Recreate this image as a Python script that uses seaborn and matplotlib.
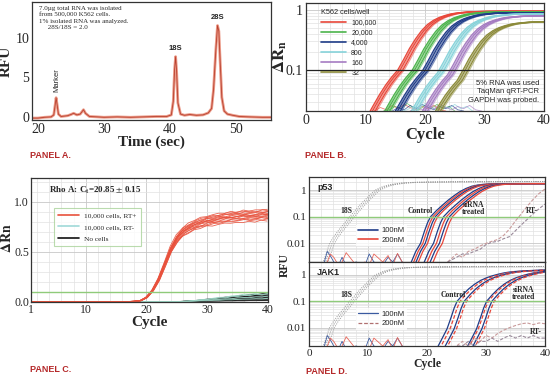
import numpy as np
import matplotlib
matplotlib.use("Agg")
import matplotlib.pyplot as plt
import seaborn as sns
from matplotlib.lines import Line2D
from matplotlib.ticker import MultipleLocator, LogLocator, NullFormatter, FixedLocator, FixedFormatter

sns.set_style("white")
plt.rcParams["font.family"] = ["Liberation Serif", "DejaVu Serif"]
plt.rcParams["mathtext.fontset"] = "stix"

W, H = 560, 386
SANS = ["Liberation Sans", "DejaVu Sans"]
PANEL_RED = "#b5292a"

# ---------------- Panel A: RNA electropherogram ----------------
time_a = [19.0, 20.0, 21.0, 22.0, 22.4, 22.6, 22.75, 22.9, 23.1, 23.5,
          24.5, 25.0, 25.4, 25.9, 26.4, 26.9, 27.2, 27.8, 29.0, 30.0,
          32.0, 34.0, 36.0, 38.0, 39.5, 40.2, 40.5, 40.7, 40.85, 41.0,
          41.2, 41.6, 42.2, 43.0, 44.0, 45.0, 45.8, 46.3, 46.6, 46.95,
          47.2, 47.4, 47.6, 47.85, 48.2, 48.7, 49.5, 50.5, 52.0, 54.0, 56.0]
rfu_a = [-0.1, -0.1, 0.0, 0.05, 0.3, 1.5, 2.45, 1.6, 0.4, 0.1,
         0.2, 0.35, 0.5, 0.3, 0.4, 0.95, 0.5, 0.1, 0.05, 0.0,
         0.05, 0.0, 0.05, 0.1, 0.1, 0.3, 2.0, 6.0, 7.6, 5.8,
         1.8, 0.4, 0.25, 0.35, 0.25, 0.3, 0.55, 1.1, 3.5, 8.5,
         11.5, 10.8, 7.0, 2.5, 0.8, 0.4, 0.25, 0.1, 0.05, 0.0, 0.0]

# ---------------- Panel B: GAPDH dilution series ----------------
b_labels = ["100,000", "20,000", "4,000", "800", "160", "32"]
b_colors = ["#e8473a", "#4cb44c", "#1f3c88", "#86d3da", "#a57cc2", "#8c8b3a"]
b_ct = [15.9, 18.3, 20.0, 22.6, 24.3, 25.9]
b_plateau = [0.95, 0.93, 0.90, 0.86, 0.80, 0.64]
b_spread = [-0.5, -0.3, -0.1, 0.15, 0.35, 0.6]
b_rel = [-7, -6, -5, -4, -3, -2, -1, 0, 1, 2, 3, 4, 5, 6, 7, 8, 9, 10, 11, 12, 14, 18, 30]
b_shape = [0.008, 0.012, 0.018, 0.027, 0.04, 0.057, 0.077, 0.1, 0.15, 0.23, 0.33, 0.45,
           0.57, 0.67, 0.75, 0.81, 0.86, 0.89, 0.91, 0.93, 0.94, 0.95, 0.95]
# tangled baseline traces near the bottom of panel B
b_noise_cyc = [11.5, 12.5, 13.5, 14.5, 15.5, 16.5, 17.5, 18.5, 19.5, 20.5, 21.5, 22.5, 23.5]
b_noise_1 = [0.021, 0.024, 0.022, 0.026, 0.023, 0.027, 0.024, 0.022, 0.025, 0.023, 0.026, 0.022, 0.021]
b_noise_2 = [0.021, 0.022, 0.025, 0.023, 0.028, 0.024, 0.022, 0.026, 0.023, 0.027, 0.023, 0.025, 0.021]
b_noise_colors = ["#e8473a", "#4cb44c", "#1f3c88", "#86d3da", "#a57cc2"]

# ---------------- Panel C: Rho A ----------------
c_cycles = list(range(1, 41))
c_rtpos = [0.0, 0.0, 0.0, 0.0, 0.0, 0.0, 0.0, 0.0, 0.0, 0.0, 0.0, 0.0, 0.0, 0.0, 0.0, 0.0, 0.0,
           0.002, 0.008, 0.04, 0.11, 0.22, 0.37, 0.52, 0.63, 0.70, 0.74, 0.77, 0.79, 0.81,
           0.82, 0.83, 0.84, 0.85, 0.85, 0.86, 0.86, 0.86, 0.87, 0.87]
c_scale = [0.93, 0.95, 0.96, 0.97, 0.98, 0.99, 1.0, 1.0, 1.01, 1.02, 1.03, 1.04, 1.05, 1.06]
c_shift = [-0.15, 0.1, -0.05, 0.15, 0.0, -0.1, 0.05, -0.15, 0.1, 0.0, -0.05, 0.15, 0.05, -0.1]
c_wiggle = [0.004, -0.006, 0.008, -0.003, 0.010, -0.008, 0.002, 0.007, -0.009, 0.005,
            -0.004, 0.009, -0.007, 0.003, 0.006, -0.010, 0.008, -0.002, 0.005, -0.006,
            0.009, -0.005, 0.002, -0.008, 0.007, 0.004, -0.009, 0.006, -0.003, 0.010,
            -0.007, 0.003, 0.008, -0.006, 0.005, -0.010, 0.007, -0.004, 0.009, -0.002]
c_noise = [0.0, 0.0, 0.0, 0.0, 0.0, 0.0, 0.0, 0.0, 0.0, 0.0, 0.0, 0.0, 0.0, 0.0, 0.0, 0.0, 0.0,
           0.0, 0.0, 0.0, 0.0, 0.0, 0.0, 0.0, 0.0, 0.001, 0.003, 0.006, 0.01, 0.014,
           0.018, 0.022, 0.026, 0.03, 0.034, 0.038, 0.042, 0.045, 0.048, 0.05]
c_nocell_scale = [0.2, 0.5, 0.8, 1.1, 1.4, 1.6, 0.35, 0.65, 0.95, 1.25]
c_rtneg_scale = [0.6, 1.0, 1.5, 1.8]

# ---------------- Panel D: siRNA knockdown ----------------
d_18s_cyc = [2.5, 3.0, 3.8, 4.5, 5.5, 6.4, 7.2, 8.2, 9.2, 10.3, 11.5, 12.8, 14.0, 16.0, 18.0, 21.0, 25.0, 40.0]
d_18s_val = [0.0015, 0.003, 0.01, 0.018, 0.035, 0.06, 0.1, 0.18, 0.32, 0.55, 1.0, 1.35, 1.6, 1.85, 1.95, 2.0, 2.05, 2.1]
d_18s_shift = [-0.3, 0.1, 0.5]
d_rel = [-3.5, -2.5, -1.7, -1.0, -0.5, 0, 1, 2, 3, 4, 5, 6, 7, 8, 9, 11, 14, 25]
p53_shape = [0.0015, 0.005, 0.01, 0.03, 0.06, 0.1, 0.17, 0.27, 0.42, 0.62, 0.88, 1.15, 1.4, 1.55, 1.65, 1.72, 1.75, 1.75]
jak_shape = [0.0015, 0.004, 0.009, 0.025, 0.055, 0.1, 0.18, 0.3, 0.45, 0.62, 0.78, 0.93, 1.07, 1.2, 1.3, 1.42, 1.52, 1.58]
p53_ct = {"Control": [20.6, 21.0, 21.4, 21.8], "siRNA": [22.8, 23.3, 23.8, 24.3]}
jak_ct = {"Control": [25.1, 25.6, 26.3, 26.7], "siRNA": [30.1, 30.4, 31.0, 31.4]}
d_conc_colors = ["#1f3c88", "#e8473a", "#1f3c88", "#e8473a"]
rt_cyc = [23.5, 25, 26, 27, 28, 29, 30, 31, 32, 33, 34, 35, 36, 37, 38, 39, 40]
p53_rt1 = [0.002, 0.004, 0.003, 0.005, 0.006, 0.008, 0.01, 0.012, 0.014, 0.02, 0.035, 0.07, 0.13, 0.25, 0.45, 0.75, 1.1]
p53_rt2 = [0.002, 0.003, 0.004, 0.004, 0.005, 0.006, 0.009, 0.011, 0.012, 0.015, 0.018, 0.03, 0.05, 0.08, 0.13, 0.2, 0.3]
jak_rt1 = [0.0015, 0.002, 0.003, 0.002, 0.004, 0.003, 0.005, 0.004, 0.006, 0.008, 0.01, 0.012, 0.014, 0.015, 0.013, 0.015, 0.014]
jak_rt2 = [0.0015, 0.002, 0.002, 0.003, 0.002, 0.003, 0.003, 0.004, 0.003, 0.004, 0.005, 0.004, 0.005, 0.004, 0.005, 0.004, 0.004]
noise_cyc = [2.0, 2.6, 3.1, 3.6, 4.2, 5.0, 5.6, 6.3, 8.0, 9.5, 10.2, 11.0, 12.5, 13.4, 14.2, 15.0, 15.8, 16.5]
noise_blue = [0.0015, 0.002, 0.005, 0.0035, 0.002, 0.0015, 0.003, 0.0015, 0.002, 0.0015, 0.004, 0.002, 0.0015, 0.003, 0.002, 0.004, 0.002, 0.0015]
noise_red = [0.0015, 0.0018, 0.002, 0.004, 0.003, 0.0015, 0.002, 0.0045, 0.0015, 0.002, 0.0015, 0.004, 0.002, 0.0035, 0.0015, 0.0042, 0.002, 0.0015]


def box(l, t, r, b):
    return [l / W, 1 - b / H, (r - l) / W, (b - t) / H]


def style_frame(ax, lw=0.9):
    for s in ax.spines.values():
        s.set_color("#333333")
        s.set_linewidth(lw)


def log_grid(ax, ticks, labels):
    ax.yaxis.set_major_locator(FixedLocator(ticks))
    ax.yaxis.set_major_formatter(FixedFormatter(labels))
    ax.yaxis.set_minor_locator(LogLocator(base=10, subs=np.arange(2, 10)))
    ax.yaxis.set_minor_formatter(NullFormatter())


fig = plt.figure(figsize=(W / 100, H / 100), dpi=100)

# ===== Panel A =====
ax = fig.add_axes(box(32, 2, 271, 120))
sns.lineplot(x=time_a, y=rfu_a, ax=ax, color="#eb9a88", lw=2.0, estimator=None, sort=False)
sns.lineplot(x=time_a, y=rfu_a, ax=ax, color="#b8402e", lw=0.6, estimator=None, sort=False)
ax.set_xlim(19.1, 55.3)
ax.set_ylim(-0.34, 14.45)
ax.set_xticks([20, 30, 40, 50])
ax.set_yticks([0, 5, 10])
ax.tick_params(direction="in", labelsize=10, length=3, pad=2)
ax.set_xlabel("Time (sec)", fontsize=11, fontweight="bold", labelpad=0)
ax.set_ylabel("RFU", fontsize=11, fontweight="bold", labelpad=2)
style_frame(ax)
ax.text(0.028, 0.97, "7.0\u00b5g total RNA was isolated\nfrom 500,000 K562 cells.\n1% isolated RNA was analyzed.\n     28S/18S = 2.0",
        transform=ax.transAxes, fontsize=5, va="top", linespacing=1.35)
ax.text(22.8, 3.2, "Marker", rotation=90, fontsize=5.5, family=SANS, ha="center", va="bottom")
ax.text(40.85, 8.2, "18S", fontsize=5.5, family=SANS, fontweight="bold", ha="center", va="bottom")
ax.text(47.2, 12.1, "28S", fontsize=5.5, family=SANS, fontweight="bold", ha="center", va="bottom")

# ===== Panel B =====
ax = fig.add_axes(box(306, 3, 544, 111))
ax.set_yscale("log")
for k, col in enumerate(b_noise_colors):
    yy = b_noise_1 if k % 2 == 0 else b_noise_2
    sns.lineplot(x=np.array(b_noise_cyc) + 1.5 * k, y=yy, ax=ax, color=col, lw=0.6, alpha=0.7,
                 estimator=None, sort=False)
rel = np.array(b_rel, dtype=float)
shape = np.array(b_shape)
for lab, col, ct, pl in zip(b_labels, b_colors, b_ct, b_plateau):
    for k, sp in enumerate(b_spread):
        sns.lineplot(x=rel + ct + sp, y=shape / shape[-1] * pl, ax=ax, color=col,
                     lw=0.9, alpha=1.0 if k % 2 == 0 else 0.55, estimator=None, sort=False)
ax.axhline(0.1, color="#222222", lw=0.9)
ax.set_xlim(0, 40)
ax.set_ylim(0.021, 1.3)
ax.set_xticks([0, 10, 20, 30, 40])
ax.xaxis.set_minor_locator(MultipleLocator(2))
log_grid(ax, [0.1, 1], ["0.1", "1"])
ax.grid(True, which="major", color="#c8c8c8", lw=0.6)
ax.grid(True, which="minor", color="#e2e2e2", lw=0.5)
ax.tick_params(which="both", direction="in", labelsize=10, pad=2)
ax.tick_params(which="minor", length=2)
ax.set_xlabel("Cycle", fontsize=12, fontweight="bold", labelpad=0)
ax.set_ylabel(r"$\mathbf{\Delta R_n}$", fontsize=12, labelpad=-2)
style_frame(ax)
handles = [Line2D([], [], color=c, lw=1.2) for c in b_colors]
leg = ax.legend(handles, b_labels, title="K562 cells/well", loc="upper left", bbox_to_anchor=(0.05, 0.97),
                frameon=False, handlelength=3.6, labelspacing=0.45, borderaxespad=0,
                prop={"family": SANS, "size": 5}, title_fontproperties={"family": SANS, "size": 5.3})
leg._legend_box.align = "left"
ax.text(0.98, 0.29, "5% RNA was used\nTaqMan qRT-PCR\nGAPDH was probed.", transform=ax.transAxes,
        fontsize=5.5, family=SANS, ha="right", va="top", linespacing=1.3)

# ===== Panel C =====
ax = fig.add_axes(box(31, 178, 268, 302))
cyc = np.array(c_cycles, dtype=float)
base = np.array(c_rtpos)
wig = np.array(c_wiggle)
noise = np.array(c_noise)
for k, sc in enumerate(c_nocell_scale):
    sns.lineplot(x=cyc, y=noise * sc * (1 + 8 * np.roll(wig, 5 * k)), ax=ax, color="#111111",
                 lw=0.6, estimator=None, sort=False)
for k, sc in enumerate(c_rtneg_scale):
    sns.lineplot(x=cyc, y=noise * sc * (1 + 8 * np.roll(wig, 7 * k + 3)), ax=ax, color="#9fd9c8",
                 lw=0.6, estimator=None, sort=False)
for k, (sc, sh) in enumerate(zip(c_scale, c_shift)):
    sns.lineplot(x=cyc + sh, y=base * sc * (1 + np.roll(wig, 3 * k)), ax=ax, color="#e8513c",
                 lw=0.6, alpha=0.9, estimator=None, sort=False)
ax.axhline(0.1, color="#8fcb7a", lw=1.0)
ax.set_xlim(1, 40)
ax.set_ylim(-0.005, 1.24)
ax.set_xticks([1, 10, 20, 30, 40])
ax.set_yticks([0.0, 0.5, 1.0])
ax.set_yticklabels(["0.0", "0.5", "1.0"])
ax.xaxis.set_minor_locator(MultipleLocator(2))
ax.yaxis.set_minor_locator(MultipleLocator(0.1))
ax.grid(True, which="major", color="#c8c8c8", lw=0.6)
ax.grid(True, which="minor", color="#e2e2e2", lw=0.5)
ax.tick_params(which="both", direction="in", labelsize=8.5, pad=1.5)
ax.tick_params(which="minor", length=2)
ax.set_xlabel("Cycle", fontsize=11, fontweight="bold", labelpad=0)
ax.set_ylabel("")
style_frame(ax)
fig.text(7 / W, 1 - 238 / H, r"$\mathbf{\Delta Rn}$", rotation=90, fontsize=10, ha="center", va="center")
handles = [Line2D([], [], color="#e8513c", lw=1.2), Line2D([], [], color="#9fd9d8", lw=1.2),
           Line2D([], [], color="#111111", lw=1.2)]
leg = ax.legend(handles, ["10,000 cells, RT+", "10,000 cells, RT-", "No cells"], loc="upper left",
                bbox_to_anchor=(0.095, 0.76), borderaxespad=0, fancybox=False, fontsize=5.3,
                handlelength=2.8, labelspacing=0.75, borderpad=0.6, handletextpad=0.8)
leg.get_frame().set_edgecolor("#a9d39a")
leg.get_frame().set_linewidth(0.8)
ax.text(0.076, 0.9, r"Rho A: C$_\mathbf{t}$=20.85 $\pm$ 0.15", transform=ax.transAxes, fontsize=6.5,
        fontweight="bold", va="center")


# ===== Panel D =====
def panel_d(ax, shape_vals, cts, rt1, rt2, gene, conc_styles):
    ax.set_yscale("log")
    r = np.array(d_rel)
    s = np.array(shape_vals)
    for sh in d_18s_shift:
        sns.lineplot(x=np.array(d_18s_cyc) + sh, y=d_18s_val, ax=ax, color="#9a9a9a", lw=0.7,
                     linestyle=(0, (1, 1.3)), estimator=None, sort=False)
    sns.lineplot(x=noise_cyc, y=noise_blue, ax=ax, color="#3a5aa0", lw=0.6, estimator=None, sort=False)
    sns.lineplot(x=noise_cyc, y=noise_red, ax=ax, color="#e8665a", lw=0.6, estimator=None, sort=False)
    for grp in ["Control", "siRNA"]:
        for k, ct in enumerate(cts[grp]):
            sns.lineplot(x=r + ct, y=s, ax=ax, color=d_conc_colors[k], lw=0.9, linestyle=conc_styles[k % 2],
                         estimator=None, sort=False)
    sns.lineplot(x=rt_cyc, y=rt1, ax=ax, color="#c99a9a", lw=0.8, linestyle=(0, (3, 1.5)),
                 estimator=None, sort=False)
    sns.lineplot(x=rt_cyc, y=rt2, ax=ax, color="#9a8a9a", lw=0.8, linestyle=(0, (3, 1.5)),
                 estimator=None, sort=False)
    ax.axhline(0.1, color="#8fcb7a", lw=1.0)
    ax.set_xlim(0, 40)
    ax.set_ylim(0.002, 3.1)
    ax.set_xticks([0, 10, 20, 30, 40])
    ax.xaxis.set_minor_locator(MultipleLocator(2))
    log_grid(ax, [0.01, 0.1, 1], ["0.01", "0.1", "1"])
    ax.grid(True, which="major", color="#c8c8c8", lw=0.6)
    ax.grid(True, which="minor", color="#e2e2e2", lw=0.5)
    ax.tick_params(which="both", direction="in", labelsize=8, pad=2)
    ax.tick_params(which="minor", length=2)
    ax.set_xlabel("")
    ax.set_ylabel("")
    style_frame(ax)
    ax.text(0.035, 0.93, gene, transform=ax.transAxes, family=SANS, fontweight="bold", fontsize=6.5,
            va="top")


def d_legend(ax, handles, y):
    lg = ax.legend(handles, ["100nM", "200nM"], loc="upper left", bbox_to_anchor=(0.2, y), borderaxespad=0,
                   fancybox=False, prop={"family": SANS, "size": 5.5}, handlelength=2.6, labelspacing=0.3,
                   borderpad=0.3, handletextpad=0.4)
    lg.get_frame().set_edgecolor("none")


ax1 = fig.add_axes(box(309, 177, 545, 262))
panel_d(ax1, p53_shape, p53_ct, p53_rt1, p53_rt2, "p53", ["-", "-"])
ax1.set_xticklabels([])
d_legend(ax1, [Line2D([], [], color="#1f3c88", lw=1.2), Line2D([], [], color="#e8473a", lw=1.2)], 0.44)
ax1.text(6.4, 0.14, "18S", fontsize=5.5, fontweight="bold", ha="center")
ax1.text(18.8, 0.14, "Control", fontsize=5.5, fontweight="bold", ha="center")
ax1.text(27.8, 0.13, "siRNA\ntreated", fontsize=5.5, fontweight="bold", ha="center", linespacing=0.8)
ax1.text(37.8, 0.14, "RT-", fontsize=5.5, fontweight="bold", ha="center")

ax2 = fig.add_axes(box(309, 262, 545, 346))
panel_d(ax2, jak_shape, jak_ct, jak_rt1, jak_rt2, "JAK1", ["-", (0, (3, 1.5))])
ax2.set_xlabel("Cycle", fontsize=8.5, fontweight="bold", labelpad=0)
d_legend(ax2, [Line2D([], [], color="#3a5aa0", lw=0.9),
               Line2D([], [], color="#b07070", lw=0.9, linestyle=(0, (3, 1.5)))], 0.45)
ax2.text(6.4, 0.14, "18S", fontsize=5.5, fontweight="bold", ha="center")
ax2.text(24.4, 0.14, "Control", fontsize=5.5, fontweight="bold", ha="center")
ax2.text(36.4, 0.12, "siRNA\ntreated", fontsize=5.5, fontweight="bold", ha="center", linespacing=0.8)
ax2.text(38.5, 0.0055, "RT-", fontsize=5.5, fontweight="bold", ha="center")
fig.text(285 / W, 1 - 265 / H, "RFU", rotation=90, fontsize=8.5, fontweight="bold", ha="center", va="center")

# ===== panel tags =====
for lab, x, y in [("PANEL A.", 30, 156), ("PANEL B.", 305, 155), ("PANEL C.", 30, 370), ("PANEL D.", 306, 372)]:
    fig.text(x / W, 1 - y / H, lab, color=PANEL_RED, fontsize=6.5, fontweight="bold", family=SANS,
             va="center")

fig.savefig("out.png", dpi=100)
